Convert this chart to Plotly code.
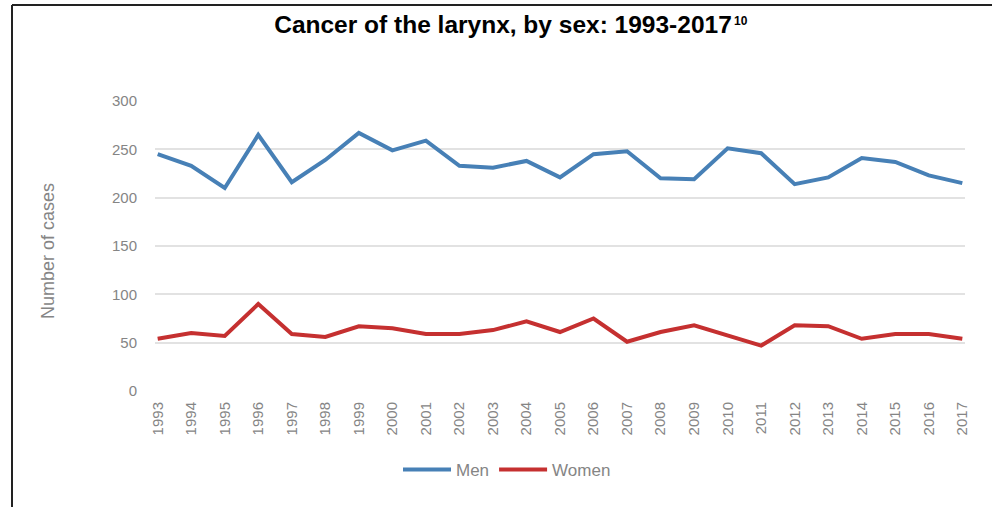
import plotly.graph_objects as go

years = list(range(1993, 2018))
men = [245, 233, 210, 265, 216, 239, 267, 249, 259, 233, 231, 238,
       221, 245, 248, 220, 219, 251, 246, 214, 221, 241, 237, 223, 215]
women = [54, 60, 57, 90, 59, 56, 67, 65, 59, 59, 63, 72,
         61, 75, 51, 61, 68, 57, 47, 68, 67, 54, 59, 59, 54]
y_ticks = [0, 50, 100, 150, 200, 250, 300]
title_text = "Cancer of the larynx, by sex: 1993-2017"
title_note = "10"

W, H = 992, 507
L, R, T, B = 155, 27, 101, 116
pw, ph = W - L - R, H - T - B

def px(x):
    return (x - L) / pw

def py(y):
    return (H - B - y) / ph

GRAY = "#858585"
FONT = "Liberation Sans, Arial, sans-serif"

fig = go.Figure()
fig.add_trace(go.Scatter(x=years, y=men, name="Men", mode="lines",
                         line=dict(color="#4780b6", width=4)))
fig.add_trace(go.Scatter(x=years, y=women, name="Women", mode="lines",
                         line=dict(color="#c53030", width=4)))

fig.update_layout(
    width=W, height=H,
    margin=dict(l=L, r=R, t=T, b=B),
    paper_bgcolor="white", plot_bgcolor="white",
    font=dict(family=FONT, color=GRAY, size=15),
    title=dict(text="<b>" + title_text + "</b>",
               x=503 / W, xanchor="center", y=1 - 24 / H, yanchor="middle",
               font=dict(family=FONT, size=24.5, color="black")),
    annotations=[dict(text="<b>" + title_note + "</b>", xref="paper", yref="paper",
                      x=px(732), y=py(21), xanchor="left", yanchor="middle",
                      showarrow=False, font=dict(family=FONT, size=12, color="black"))],
    xaxis=dict(range=[1992.92, 2017.08], tickmode="array", tickvals=years,
               ticktext=[str(y) for y in years], tickangle=-90,
               showgrid=False, zeroline=False, showline=False, ticks="",
               ticklabelstandoff=7,
               tickfont=dict(size=15, color=GRAY)),
    yaxis=dict(range=[0, 300], tickmode="array", tickvals=y_ticks,
               showgrid=True, gridcolor="#e2e2e2", gridwidth=2,
               zeroline=False, showline=False, ticks="", ticklabelstandoff=17,
               tickfont=dict(size=15, color=GRAY)),
    legend=dict(orientation="h", x=px(398), xanchor="left", y=py(470), yanchor="middle",
                font=dict(size=17, color=GRAY), itemwidth=48,
                bgcolor="rgba(0,0,0,0)"),
    shapes=[
        dict(type="line", xref="paper", yref="paper",
             x0=px(12), x1=px(992), y0=py(5), y1=py(5),
             line=dict(color="#222", width=2)),
        dict(type="line", xref="paper", yref="paper",
             x0=px(12), x1=px(12), y0=py(5), y1=py(507),
             line=dict(color="#222", width=2)),
    ],
)
fig.add_annotation(text="Number of cases", xref="paper", yref="paper",
                   x=px(48), y=py(251), textangle=-90, showarrow=False,
                   xanchor="center", yanchor="middle",
                   font=dict(family=FONT, size=18, color=GRAY))

fig.write_html("out.html", config={"displayModeBar": False},
               post_script="document.body.style.margin='0';document.body.style.overflow='hidden';")
